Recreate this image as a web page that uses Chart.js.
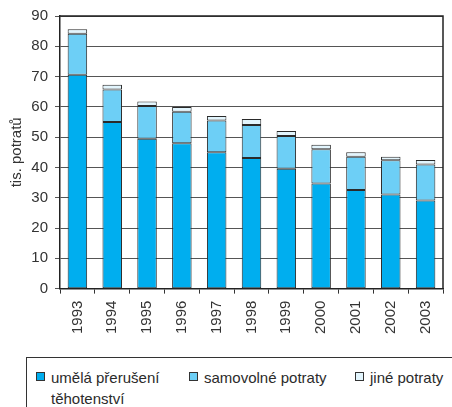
<!DOCTYPE html>
<html>
<head>
<meta charset="utf-8">
<script src="https://cdn.jsdelivr.net/npm/chart.js@4/dist/chart.umd.min.js"></script>
<style>
  body { margin: 0; background: #fff; font-family: "Liberation Sans", Arial, sans-serif; }
  #wrap { position: relative; width: 452px; height: 407px; overflow: hidden; }
  #chartBox { position: absolute; left: 0; top: 0; width: 452px; height: 345px; }
  #legend { position: absolute; left: 26px; top: 357px; width: 440px; height: 60px;
    border: 1px solid #333; box-sizing: border-box; color: #2b2b2b; font-size: 15px; }
  .item { position: absolute; top: 9px; line-height: 21px; }
  .box { position: absolute; left: 0; top: 5px; width: 7px; height: 7px; border: 1px solid #333; }
  .txt { position: absolute; left: 15px; top: 0; white-space: nowrap; }
</style>
</head>
<body>
<div id="wrap">
  <div id="chartBox"><canvas id="myChart"></canvas></div>
  <div id="legend"></div>
</div>
<script>
const years = ['1993', '1994', '1995', '1996', '1997', '1998', '1999', '2000', '2001', '2002', '2003'];
const umela = [70.6, 55.0, 49.5, 48.0, 45.0, 43.1, 39.6, 34.7, 32.6, 31.1, 29.1];
const samovolne = [13.5, 10.7, 10.8, 10.4, 10.5, 10.9, 10.8, 11.3, 10.9, 11.3, 11.9];
const jine = [1.5, 1.6, 1.5, 1.6, 1.5, 2.0, 1.6, 1.5, 1.5, 1.1, 1.5];
const yTicks = [0, 10, 20, 30, 40, 50, 60, 70, 80, 90];

const seriesNames = ['umělá přerušení těhotenství', 'samovolné potraty', 'jiné potraty'];
const seriesColors = ['#00aeef', '#6dcff6', '#e2f5fd'];

// frame on top and right of the plot
const frame = {
  id: 'frame',
  afterDraw(chart) {
    const a = chart.chartArea;
    const ctx = chart.ctx;
    ctx.save();
    ctx.strokeStyle = '#222';
    ctx.lineWidth = 1.5;
    ctx.beginPath();
    ctx.moveTo(a.left, a.top);
    ctx.lineTo(a.right, a.top);
    ctx.lineTo(a.right, a.bottom);
    ctx.stroke();
    ctx.restore();
  }
};

const ctx = document.getElementById('myChart').getContext('2d');
const myChart = new Chart(ctx, {
  type: 'bar',
  data: {
    labels: years,
    datasets: [umela, samovolne, jine].map(function (d, i) {
      return {
        label: seriesNames[i],
        data: d,
        backgroundColor: seriesColors[i],
        borderColor: '#2a2a2a',
        borderWidth: 1,
        borderSkipped: false,
        barPercentage: 0.56,
        categoryPercentage: 1
      };
    })
  },
  options: {
    responsive: true,
    maintainAspectRatio: false,
    animation: false,
    layout: { padding: { top: 1, right: 9, bottom: 4, left: 0 } },
    plugins: { legend: { display: false }, tooltip: { enabled: false } },
    scales: {
      x: {
        stacked: true,
        grid: { display: true, drawOnChartArea: false, tickLength: 5, color: '#333', offset: true },
        border: { color: '#222', width: 1.5 },
        ticks: { minRotation: 90, maxRotation: 90, padding: 7, color: '#333',
          font: { family: '"Liberation Sans", Arial, sans-serif', size: 15 } }
      },
      y: {
        stacked: true,
        min: 0,
        max: 90,
        afterBuildTicks: function (scale) { scale.ticks = yTicks.map(function (v) { return { value: v }; }); },
        afterFit: function (scale) { scale.width = 60; },
        grid: { color: '#555', tickLength: 5 },
        border: { color: '#222', width: 1.5 },
        ticks: { padding: 7, color: '#333',
          font: { family: '"Liberation Sans", Arial, sans-serif', size: 15 } },
        title: { display: true, text: 'tis. potratů', color: '#333', padding: { top: 8, bottom: 0 },
          font: { family: '"Liberation Sans", Arial, sans-serif', size: 15 } }
      }
    }
  },
  plugins: [frame]
});

// html legend (first label wraps onto two lines)
const legend = document.getElementById('legend');
const legendX = [9, 162, 328];
const legendText = ['umělá přerušení<br>těhotenství', 'samovolné potraty', 'jiné potraty'];
seriesNames.forEach(function (name, i) {
  const item = document.createElement('div');
  item.className = 'item';
  item.style.left = legendX[i] + 'px';
  item.innerHTML = '<div class="box" style="background:' + seriesColors[i] + '"></div>' +
    '<div class="txt">' + legendText[i] + '</div>';
  legend.appendChild(item);
});
</script>
</body>
</html>
